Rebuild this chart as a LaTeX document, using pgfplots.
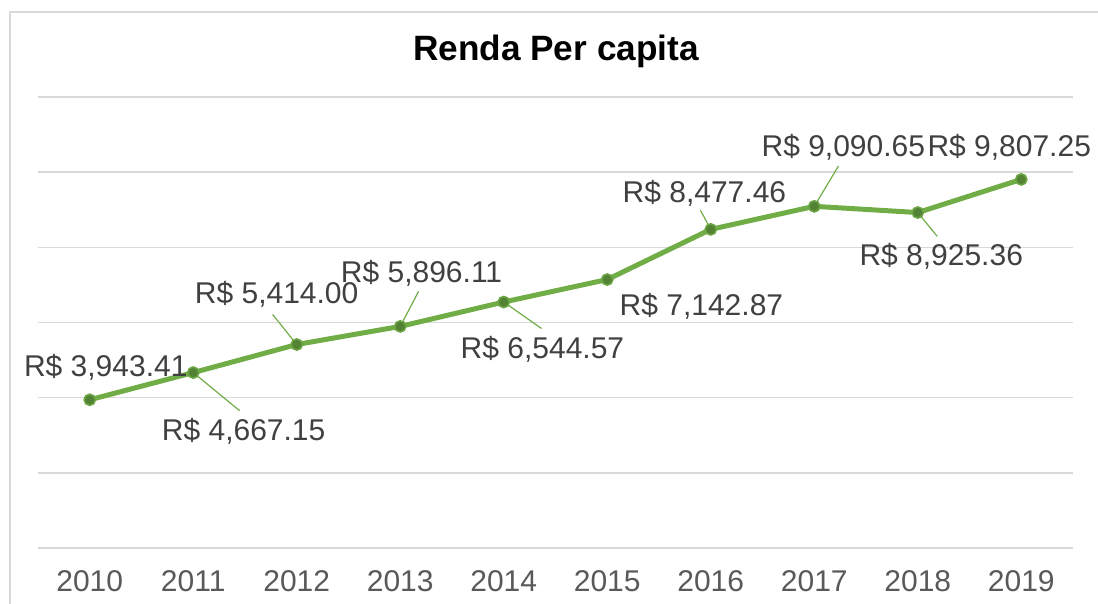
\documentclass[border=0pt]{standalone}
\usepackage{pgfplots}
\pgfplotsset{compat=1.18}
\usepackage{fontspec}
\setmainfont{Liberation Sans}
\definecolor{lgreen}{HTML}{70AD47}
\definecolor{dgreen}{HTML}{548235}
\definecolor{gridc}{HTML}{D9D9D9}
\definecolor{labc}{HTML}{404040}
\definecolor{tickc}{HTML}{595959}
\begin{document}
\begin{tikzpicture}[x=1pt,y=1pt]
\path[use as bounding box] (0,0) rectangle (549,302);
\draw[gridc,line width=0.75pt] (5,0) -- (5,296) -- (549,296);
\node[font=\fontsize{17.6}{20}\selectfont\bfseries] at (278,276.5) {Renda Per capita};
\begin{axis}[
  at={(19pt,28pt)}, anchor=south west,
  scale only axis, width=517.5pt, height=225.5pt,
  xmin=-0.5, xmax=9.5, ymin=0, ymax=12000,
  xtick={0,...,9},
  xticklabels={2010,2011,2012,2013,2014,2015,2016,2017,2018,2019},
  ytick={0,2000,...,12000}, yticklabels={}, scaled y ticks=false,
  ymajorgrids, grid style={gridc, line width=0.75pt},
  axis line style={draw=none},
  major tick length=0pt,
  xticklabel style={font=\fontsize{15}{17}\selectfont, text=tickc, yshift=-7.5pt},
  clip=false,
]
% leader lines
\draw[lgreen, line width=0.6pt] (axis cs:1,4667.15) -- (axis cs:1.448,3653);
\draw[lgreen, line width=0.6pt] (axis cs:2,5414.00) -- (axis cs:1.767,6213);
\draw[lgreen, line width=0.6pt] (axis cs:3,5896.11) -- (axis cs:3.177,6827);
\draw[lgreen, line width=0.6pt] (axis cs:4,6544.57) -- (axis cs:4.365,5840);
\draw[lgreen, line width=0.6pt] (axis cs:6,8477.46) -- (axis cs:5.900,8987);
\draw[lgreen, line width=0.6pt] (axis cs:7,9090.65) -- (axis cs:7.233,10160);
\draw[lgreen, line width=0.6pt] (axis cs:8,8925.36) -- (axis cs:8.188,8293);
\addplot[lgreen, line width=2.5pt, mark=*, mark size=2.8pt,
  mark options={fill=dgreen, draw=lgreen!80!dgreen, line width=0.8pt}]
  coordinates {(0,3943.41) (1,4667.15) (2,5414.00) (3,5896.11) (4,6544.57)
               (5,7142.87) (6,8477.46) (7,9090.65) (8,8925.36) (9,9807.25)};
\tikzset{lab/.style={font=\fontsize{15}{17}\selectfont, text=labc, inner sep=0pt}}
\node[lab] at (axis cs:0.155,4800) {R\$ 3,943.41};
\node[lab] at (axis cs:1.487,3093) {R\$ 4,667.15};
\node[lab] at (axis cs:1.806,6747) {R\$ 5,414.00};
\node[lab] at (axis cs:3.206,7307) {R\$ 5,896.11};
\node[lab] at (axis cs:4.374,5280) {R\$ 6,544.57};
\node[lab] at (axis cs:5.910,6427) {R\$ 7,142.87};
\node[lab] at (axis cs:5.939,9440) {R\$ 8,477.46};
\node[lab] at (axis cs:7.281,10667) {R\$ 9,090.65};
\node[lab] at (axis cs:8.227,7760) {R\$ 8,925.36};
\node[lab] at (axis cs:8.884,10667) {R\$ 9,807.25};
\end{axis}
\end{tikzpicture}
\end{document}
